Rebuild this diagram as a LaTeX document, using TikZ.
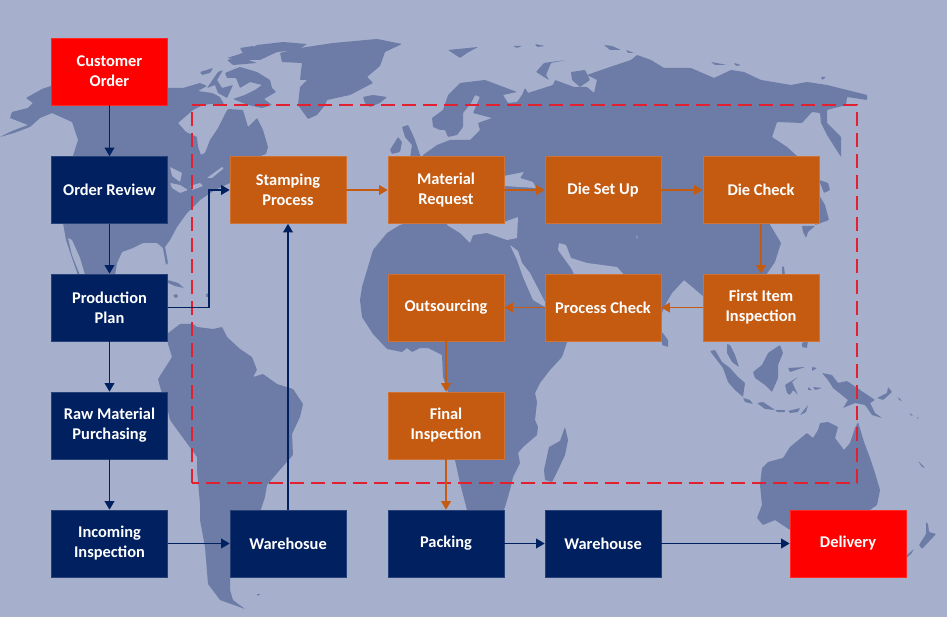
\documentclass[tikz,border=0pt]{standalone}
\usepackage{fontspec}
\setmainfont{Carlito}
\usetikzlibrary{arrows.meta}
\definecolor{bgc}{HTML}{A6B0CC}
\definecolor{landc}{HTML}{6C7CA7}
\definecolor{navyc}{HTML}{002060}
\definecolor{orangec}{HTML}{C55A11}
\definecolor{redc}{HTML}{FF0000}
\definecolor{dashc}{HTML}{E3202F}
\tikzset{
  land/.style={fill=landc,rounded corners=0.7pt},
  water/.style={fill=bgc,rounded corners=0.7pt},
  flowbox/.style={minimum width=116pt,minimum height=67pt,inner sep=0pt,align=center,text=white,
    font=\fontsize{16.4}{20}\selectfont\bfseries,line width=0.6pt},
  navybox/.style={flowbox,fill=navyc,draw=navyc!85!white},
  orangebox/.style={flowbox,fill=orangec,draw=orangec!85!white},
  redbox/.style={flowbox,fill=redc,draw=redc!85!white},
  navyarrow/.style={draw=navyc,line width=1.8pt,-{Triangle[length=8.5pt,width=9.5pt]}},
  orangearrow/.style={draw=orangec,line width=1.8pt,-{Triangle[length=8.5pt,width=9.5pt]}},
  zone/.style={draw=dashc,line width=1.8pt,dash pattern=on 14pt off 7pt}
}
\begin{document}
\begin{tikzpicture}[x=1pt,y=-1pt]
\useasboundingbox (0,0) rectangle (947,617);
\fill[bgc] (0,0) rectangle (947,617);
% North America
\path[land] (0,137)--(12,131)--(28,125)--(10,118)--(12,112)--(28,108)--(33,103)--(26,98)--(42,89)--(51,86)--(167,88)--(183,88)--(200,83)--(207,86)--(198,91)--(212,93)--(220,97)--(224,104)--(210,104)--(203,105)--(193,110)--(178,123)--(186,132)--(197,137)--(198,147)--(201,155)--(205,153)--(210,140)--(218,128)--(226,112)--(228,109)--(243,110)--(248,127)--(257,118)--(263,130)--(268,147)--(266,154)--(255,158)--(258,162)--(235,175)--(230,183)--(215,190)--(200,200)--(187,213)--(177,227)--(170,240)--(165,247)--(168,263)--(166,265)--(163,248)--(157,243)--(143,243)--(133,248)--(122,252)--(117,263)--(115,275)--(78,275)--(72,258)--(66,240)--(63,223)--(68,190)--(73,156)--(78,140)--(72,122)--(52,113)--(40,118)--(30,127)--(14,133)--cycle;
\path[water] (68,238)--(72,240)--(80,258)--(85,275)--(80,275)--(72,255)--cycle;
\path[water] (170,167)--(182,173)--(180,182)--(172,176)--cycle;
\path[water] (170,183)--(180,185)--(188,190)--(180,193)--(172,188)--cycle;
\path[water] (190,186)--(200,183)--(203,186)--(192,190)--cycle;
\path[water] (207,178)--(222,167)--(224,168)--(212,178)--cycle;
% Cuba
\path[land] (168,280)--(178,283)--(184,288)--(175,286)--(168,283)--cycle;
\path[land] (173,295)--(177,294)--(178,297)--(175,298)--cycle;
\path[land] (206,294)--(208,293)--(208,297)--(206,297)--cycle;
% Arctic Canada
\path[land] (257,45)--(283,42)--(307,44)--(298,50)--(277,52)--(260,60)--(240,60)--(227,58)--(240,54)--cycle;
\path[land] (240,48)--(253,46)--(258,50)--(247,53)--(242,52)--cycle;
\path[land] (225,73)--(240,67)--(257,72)--(270,80)--(272,88)--(276,92)--(264,99)--(272,105)--(262,108)--(248,105)--(233,99)--(245,95)--(255,90)--(262,85)--(250,82)--(240,88)--(236,78)--(227,78)--cycle;
\path[land] (200,72)--(213,68)--(210,73)--(202,75)--cycle;
\path[land] (207,88)--(218,72)--(223,70)--(217,80)--(222,88)--(233,85)--(227,98)--(218,93)--(215,85)--cycle;
\path[land] (227,60)--(240,57)--(257,63)--(233,65)--cycle;
% Greenland, Iceland
\path[land] (280,53)--(300,48)--(333,43)--(377,39)--(402,44)--(385,52)--(380,66)--(367,77)--(373,83)--(350,95)--(327,100)--(325,105)--(317,115)--(308,119)--(298,105)--(300,87)--(307,80)--(300,80)--(302,63)--(282,62)--cycle;
\path[land] (363,97)--(373,95)--(387,97)--(380,103)--(370,107)--(365,103)--cycle;
% Britain
\path[land] (408,125)--(412,133)--(415,140)--(421,158)--(410,158)--(412,145)--(405,137)--(402,127)--cycle;
\path[land] (390,150)--(398,137)--(402,142)--(400,152)--(392,154)--cycle;
% Arctic Eurasia
\path[land] (448,50)--(478,47)--(467,53)--(460,58)--cycle;
\path[land] (513,46)--(522,46)--(517,48)--cycle;
\path[land] (535,44)--(545,46)--(537,47)--cycle;
\path[land] (536,72)--(544,63)--(566,60)--(551,63)--(546,75)--(549,80)--cycle;
\path[land] (604,45)--(612,46)--(621,50)--(610,50)--cycle;
\path[land] (626,50)--(634,53)--(628,53)--cycle;
\path[land] (711,62)--(727,65)--(715,65)--cycle;
\path[land] (734,63)--(741,65)--(736,66)--cycle;
\path[land] (821,77)--(826,77)--(822,80)--cycle;
% Eurasia and Africa
\path[land] (423,155)--(437,145)--(450,140)--(457,140)--(470,140)--(480,130)--(478,123)--(492,118)--(473,113)--(480,97)--(475,95)--(471,103)--(463,113)--(463,127)--(457,135)--(448,137)--(445,130)--(440,130)--(433,127)--(432,118)--(443,110)--(448,95)--(460,83)--(485,80)--(517,92)--(503,95)--(508,103)--(517,102)--(522,95)--(525,88)--(528,93)--(553,85)--(555,80)--(574,87)--(587,87)--(594,93)--(597,80)--(587,75)--(607,68)--(631,60)--(637,55)--(651,60)--(664,68)--(691,68)--(714,78)--(731,70)--(744,72)--(761,80)--(791,85)--(807,82)--(827,85)--(867,95)--(867,100)--(847,97)--(846,105)--(827,110)--(827,123)--(841,137)--(841,157)--(827,135)--(821,123)--(820,113)--(812,112)--(802,123)--(777,122)--(772,137)--(787,147)--(797,156)--(800,165)--(785,200)--(769,223)--(781,243)--(775,262)--(766,275)--(750,330)--(725,335)--(703,296)--(684,280)--(672,293)--(664,307)--(658,325)--(640,310)--(600,320)--(567,342)--(562,357)--(550,370)--(540,383)--(535,393)--(537,402)--(535,420)--(538,427)--(537,435)--(523,447)--(518,453)--(520,463)--(513,477)--(510,490)--(505,507)--(503,512)--(490,530)--(470,530)--(467,510)--(460,483)--(455,460)--(443,400)--(448,392)--(443,377)--(442,355)--(428,348)--(420,348)--(412,352)--(407,348)--(402,352)--(387,349)--(373,334)--(362,317)--(360,300)--(362,287)--(373,250)--(387,233)--(400,225)--(420,220)--(400,210)--(395,190)--(420,170)--cycle;
\path[land] (571,72)--(585,70)--(590,80)--(580,87)--(572,80)--cycle;
% Inland seas
\path[water] (447,220)--(447,225)--(460,233)--(470,243)--(473,235)--(487,233)--(507,240)--(517,238)--(518,217)--(504,222)--cycle;
\path[water] (504,176)--(514,174)--(524,172)--(520,178)--(533,182)--(536,188)--(520,187)--(504,186)--cycle;
\path[water] (510,245)--(518,251)--(522,263)--(530,273)--(545,302)--(545,307)--(533,300)--(523,277)--(517,260)--cycle;
\path[water] (559,243)--(566,245)--(571,258)--(587,263)--(617,267)--(625,276)--(575,276)--(571,268)--(558,250)--cycle;
\path[water] (636,235)--(638,238)--(637,239)--cycle;
% Asia islands
\path[land] (782,266)--(784,267)--(785,275)--(782,275)--cycle;
\path[land] (662,332)--(668,340)--(668,347)--(662,345)--cycle;
\path[land] (819,180)--(828,183)--(830,190)--(824,193)--cycle;
\path[land] (819,195)--(825,205)--(829,220)--(815,225)--cycle;
\path[land] (802,226)--(815,226)--(808,232)--(806,238)--(803,232)--cycle;
\path[land] (802,343)--(808,340)--(807,348)--(802,347)--cycle;
% Indonesia
\path[land] (710,351)--(715,350)--(722,362)--(730,368)--(738,377)--(745,383)--(743,397)--(735,390)--(728,382)--(723,368)--cycle;
\path[land] (727,344)--(730,345)--(735,355)--(739,367)--(732,362)--(727,353)--cycle;
\path[land] (753,372)--(762,365)--(768,353)--(780,345)--(783,353)--(778,365)--(778,378)--(772,392)--(765,385)--(755,378)--cycle;
\path[land] (743,398)--(750,400)--(753,404)--(745,402)--cycle;
\path[land] (757,403)--(763,402)--(775,410)--(765,409)--cycle;
\path[land] (775,410)--(785,410)--(785,412)--(777,412)--cycle;
\path[land] (788,411)--(800,408)--(798,412)--(790,413)--cycle;
\path[land] (800,415)--(808,405)--(806,412)--cycle;
\path[land] (785,385)--(798,377)--(792,382)--(798,395)--(793,390)--(790,395)--(787,393)--cycle;
\path[land] (788,368)--(805,367)--(790,372)--cycle;
\path[land] (812,367)--(817,368)--(812,371)--cycle;
\path[land] (808,387)--(812,390)--(808,390)--cycle;
\path[land] (813,387)--(822,388)--(815,390)--cycle;
\path[land] (822,373)--(832,375)--(838,383)--(847,381)--(863,392)--(875,400)--(870,403)--(875,413)--(882,418)--(872,415)--(865,405)--(855,403)--(843,408)--(848,400)--(833,388)--(828,380)--cycle;
\path[land] (877,398)--(887,393)--(888,387)--(892,392)--(883,400)--cycle;
\path[land] (898,397)--(902,401)--(899,400)--cycle;
\path[land] (910,413)--(913,416)--(910,415)--cycle;
\path[land] (917,417)--(919,418)--(917,419)--cycle;
\path[land] (918,461)--(925,468)--(922,467)--cycle;
% Australia
\path[land] (762,468)--(768,462)--(783,458)--(790,447)--(807,433)--(813,438)--(818,430)--(820,423)--(828,422)--(838,427)--(835,438)--(844,450)--(850,443)--(855,428)--(858,422)--(864,442)--(870,458)--(875,473)--(880,490)--(877,505)--(867,512)--(860,530)--(790,530)--(775,520)--(763,525)--(757,518)--(762,505)--(760,485)--cycle;
% New Zealand
\path[land] (926,522)--(928,524)--(929,532)--(936,534)--(922,549)--(919,545)--(926,534)--cycle;
\path[land] (907,555)--(914,549)--(911,554)--(906,558)--cycle;
% South America
\path[land] (167,334)--(180,324)--(193,324)--(197,327)--(213,329)--(222,327)--(227,337)--(240,349)--(252,357)--(257,370)--(253,377)--(263,374)--(277,384)--(293,389)--(303,404)--(300,417)--(292,434)--(293,455)--(278,472)--(267,485)--(265,497)--(260,512)--(240,560)--(230,577)--(230,590)--(233,600)--(245,609)--(220,600)--(208,584)--(205,547)--(200,520)--(200,504)--(197,470)--(197,457)--(170,420)--(167,407)--(160,387)--(158,379)--(172,357)--(168,344)--cycle;
\path[land] (257,594)--(261,594)--(257,596)--cycle;
% Madagascar
\path[land] (565,427)--(568,440)--(565,455)--(558,470)--(552,482)--(545,480)--(544,470)--(549,447)--(560,441)--cycle;
% dashed zone
\draw[zone] (192,483) -- (192,105) -- (857,105) -- (857,483) -- cycle;
% nodes
\node[redbox] (order) at (109.5,71.5) {Customer\\Order};
\node[navybox] (review) at (109.5,190) {Order Review};
\node[navybox] (plan) at (109.5,307.5) {Production\\Plan};
\node[navybox] (raw) at (109.5,425.5) {Raw Material\\Purchasing};
\node[navybox] (incoming) at (109.5,543.5) {Incoming\\Inspection};
\node[navybox] (whs) at (288,543.5) {Warehosue};
\node[navybox] (packing) at (446,543.5) {Packing};
\node[navybox] (wh) at (603,543.5) {Warehouse};
\node[redbox] (delivery) at (848,543.5) {Delivery};
\node[orangebox] (stamp) at (288,190) {Stamping\\Process};
\node[orangebox] (request) at (446,190) {Material\\Request};
\node[orangebox] (setup) at (603,190) {Die Set Up};
\node[orangebox] (check) at (761,190) {Die Check};
\node[orangebox] (first) at (761,307.5) {First Item\\Inspection};
\node[orangebox] (process) at (603,307.5) {Process Check};
\node[orangebox] (out) at (446,307.5) {Outsourcing};
\node[orangebox] (final) at (446,425.5) {Final\\Inspection};
% connectors
\draw[navyarrow] (order) -- (review);
\draw[navyarrow] (review) -- (plan);
\draw[navyarrow] (plan) -- (raw);
\draw[navyarrow] (raw) -- (incoming);
\draw[navyarrow] (incoming) -- (whs);
\draw[navyarrow] (whs) -- (stamp);
\draw[navyarrow] (plan.east) -- ++(41,0) |- (stamp.west);
\draw[navyarrow] (packing) -- (wh);
\draw[navyarrow] (wh) -- (delivery);
\draw[orangearrow] (stamp) -- (request);
\draw[orangearrow] (request) -- (setup);
\draw[orangearrow] (setup) -- (check);
\draw[orangearrow] (check) -- (first);
\draw[orangearrow] (first) -- (process);
\draw[orangearrow] (process) -- (out);
\draw[orangearrow] (out) -- (final);
\draw[orangearrow] (final) -- (packing);
\end{tikzpicture}
\end{document}
